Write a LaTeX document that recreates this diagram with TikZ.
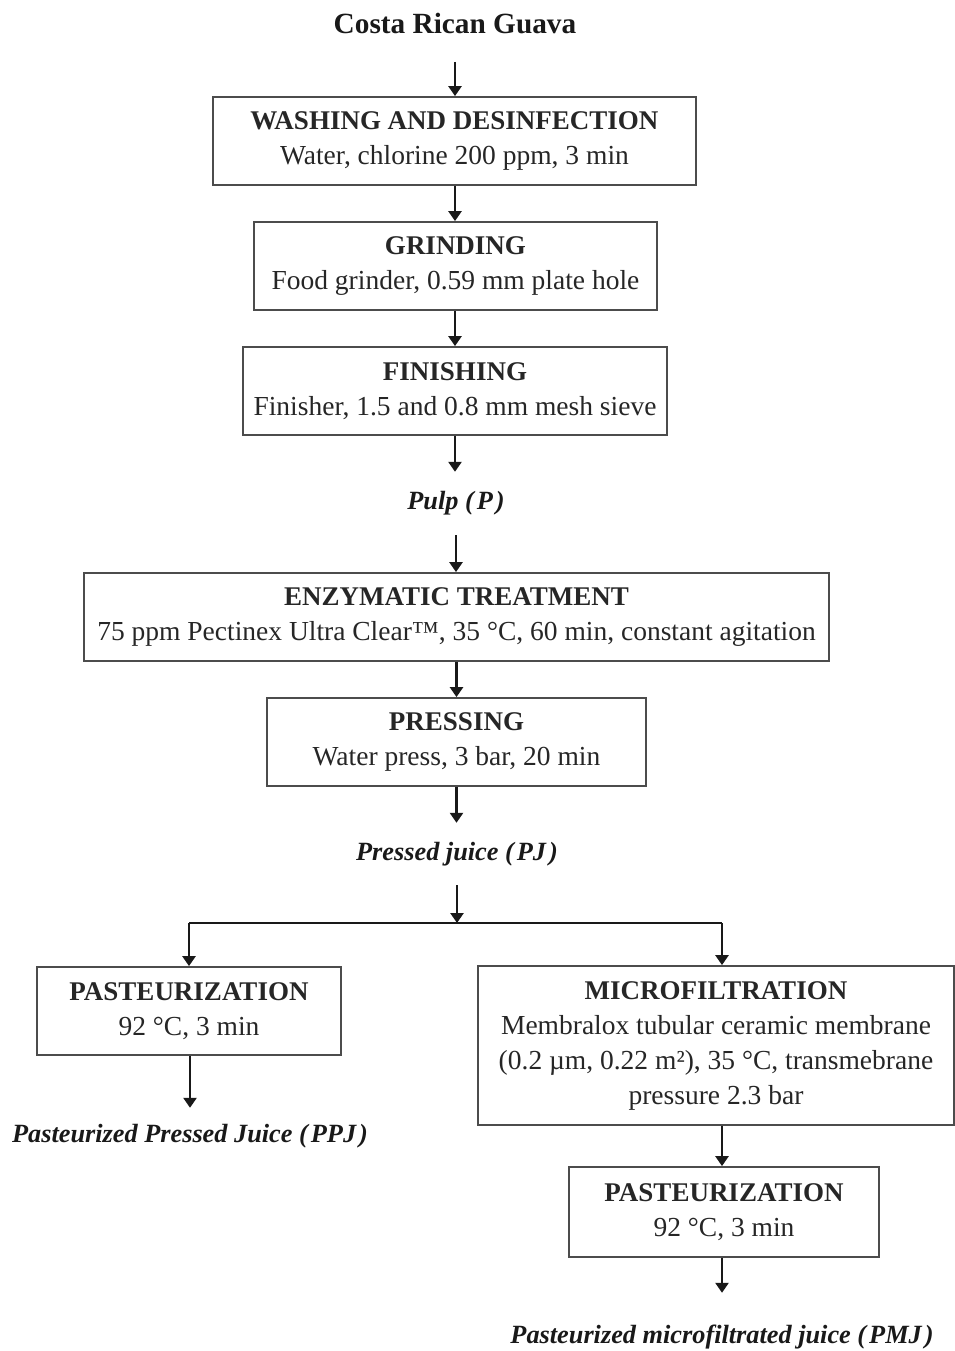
\documentclass[tikz,border=0pt]{standalone}
\usepackage{fontspec}
\setmainfont{Liberation Serif}
\usetikzlibrary{arrows.meta}
\newcommand{\pk}{\kern3pt}
\begin{document}
\begin{tikzpicture}[x=1pt,y=-1pt,
  box/.style={draw=black!70,line width=1.8pt,minimum width=#1,align=center,
    minimum height=88pt,inner sep=0pt,text=black!85,
    font=\fontsize{27.5}{35}\selectfont},
  hd/.style={},
  lbl/.style={minimum height=#1,inner sep=0pt,text=black!90,
    font=\fontsize{26.3}{30}\selectfont\bfseries\itshape},
  arr/.style={line width=2.8pt,black!90,-{Triangle[length=10pt,width=13pt]}},
  ln/.style={line width=2.8pt,black!90}]
\useasboundingbox (0,0) rectangle (954,1351);
\node[text=black!90,font=\fontsize{29.3}{33}\selectfont\bfseries] (title) at (455,24) {Costa Rican Guava};
\coordinate (t0) at (455,62);
\node[box=483] (wash) at (454.5,141) {{\fontsize{27}{35}\selectfont\bfseries WASHING AND DESINFECTION}\\Water, chlorine 200 ppm, 3 min};
\node[box=403] (grind) at (455.5,266) {{\fontsize{27}{35}\selectfont\bfseries GRINDING}\\Food grinder, 0.59 mm plate hole};
\node[box=424] (fin) at (455,391) {{\fontsize{27}{35}\selectfont\bfseries FINISHING}\\Finisher, 1.5 and 0.8 mm mesh sieve};
\node[lbl=63pt] (pulp) at (456,503.5) {Pulp (\pk P\pk)};
\node[box=745] (enz) at (456.5,617) {{\fontsize{27}{35}\selectfont\bfseries ENZYMATIC TREATMENT}\\75 ppm Pectinex Ultra Clear™, 35 °C, 60 min, constant agitation};
\node[box=379] (press) at (456.5,742) {{\fontsize{27}{35}\selectfont\bfseries PRESSING}\\Water press, 3 bar, 20 min};
\node[lbl=62pt] (pj) at (457,854) {Pressed juice (\pk PJ\pk)};
\coordinate (split) at (457,923);
\coordinate (sl) at (189,923);
\coordinate (sr) at (722,923);
\node[box=304] (past1) at (189,1011) {{\fontsize{27}{35}\selectfont\bfseries PASTEURIZATION}\\92 °C, 3 min};
\node[box=476,minimum height=159pt] (micro) at (716,1045.5) {{\fontsize{27}{35}\selectfont\bfseries MICROFILTRATION}\\Membralox tubular ceramic membrane\\(0.2 µm, 0.22 m²), 35 °C, transmebrane\\pressure 2.3 bar};
\node[lbl=56pt] (ppj) at (190,1136) {Pasteurized Pressed Juice (\pk PPJ\pk)};
\node[box=310,minimum height=90pt] (past2) at (724,1212) {{\fontsize{27}{35}\selectfont\bfseries PASTEURIZATION}\\92 °C, 3 min};
\node[lbl=88pt] (pmj) at (722,1337) {Pasteurized microfiltrated juice (\pk PMJ\pk)};
\draw[arr] (t0) -- (t0 |- wash.north);
\draw[arr] (wash.south -| t0) -- (t0 |- grind.north);
\draw[arr] (grind.south -| t0) -- (t0 |- fin.north);
\draw[arr] (fin.south -| t0) -- (t0 |- pulp.north);
\draw[arr] (pulp.south) -- (pulp.south |- enz.north);
\draw[arr] (enz.south) -- (enz.south |- press.north);
\draw[arr] (press.south) -- (press.south |- pj.north);
\draw[arr] (pj.south) -- (split);
\draw[ln] (sl) -- (sr);
\draw[arr] (sl) -- (sl |- past1.north);
\draw[arr] (sr) -- (sr |- micro.north);
\draw[arr] (past1.south -| ppj.north) -- (ppj.north);
\draw[arr] (sr |- micro.south) -- (sr |- past2.north);
\draw[arr] (sr |- past2.south) -- (sr |- pmj.north);
\end{tikzpicture}
\end{document}
